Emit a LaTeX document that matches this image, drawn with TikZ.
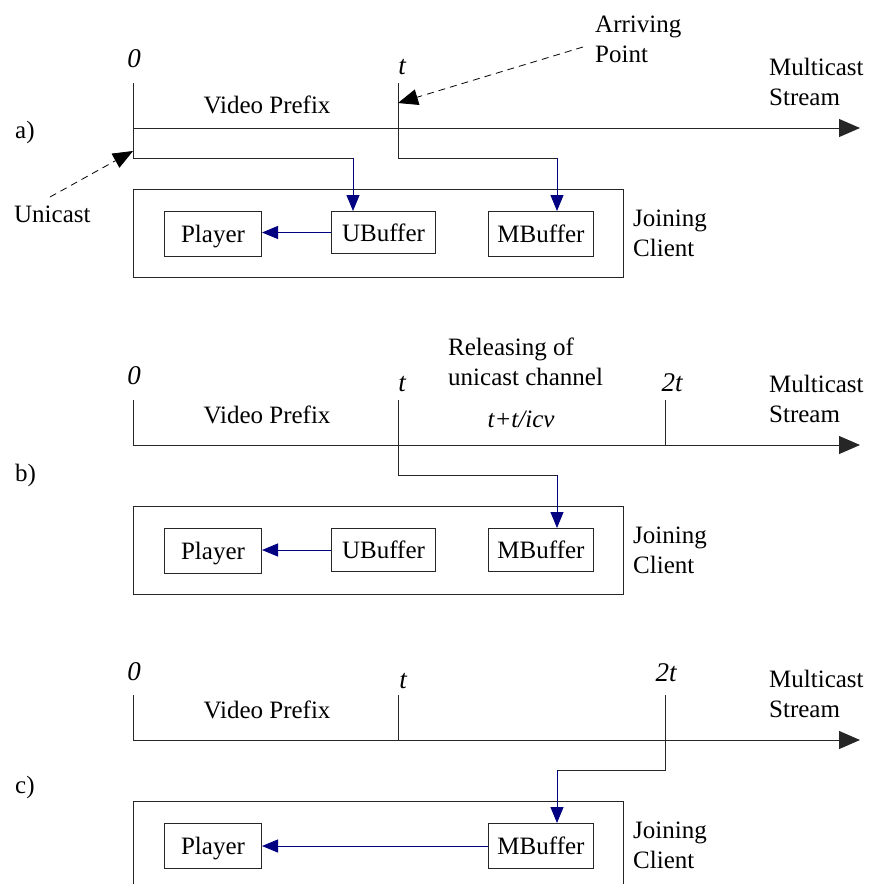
\documentclass[tikz,border=0pt]{standalone}
\usepackage{fontspec}
\setmainfont{Liberation Serif}
\usetikzlibrary{arrows.meta}
\definecolor{navy}{RGB}{0,0,128}
\begin{document}
\begin{tikzpicture}[x=1pt,y=-1pt,
  every node/.style={font=\fontsize{25}{30}\selectfont, inner sep=0pt},
  line/.style={draw=black!85, line width=1pt},
  axis/.style={line, -{Triangle[length=21pt,width=18pt]}},
  feed/.style={draw=navy, line width=1pt, -{Triangle[length=16pt,width=13pt]}},
  pointer/.style={draw=black, line width=0.8pt, dash pattern=on 7pt off 5pt, -{Triangle[length=20pt,width=16pt]}},
  client/.style={draw=black!85, line width=1pt, anchor=north west, minimum width=490pt, minimum height=88pt},
  unit/.style={draw=black!85, line width=1pt, anchor=north west, minimum height=45pt, text height=17pt, text depth=0pt},
  lbl/.style={anchor=base},
  lblw/.style={anchor=base west},
  multi/.style={anchor=north west, align=left},
  tick/.style={font=\fontsize{27}{30}\selectfont\itshape, anchor=base}
]
\useasboundingbox (0,0) rectangle (876,884);
\clip (0,0) rectangle (876,884);

% ---------------- panel a ----------------
\coordinate (a0) at (133,83);
\coordinate (a0x) at (133,128);
\coordinate (a0e) at (133,158);
\coordinate (a0u) at (133,151);
\coordinate (aE) at (860,128);
\coordinate (a1) at (398,83);
\coordinate (a1e) at (398,158);
\coordinate (a1p) at (398,103);
\coordinate (aUb) at (353,158);
\coordinate (aMb) at (557,158);
\coordinate (uniS) at (50,197);
\coordinate (arrS) at (583,47);

\draw[axis] (a0x) -- (aE);
\draw[line] (a0) -- (a0e) -- (aUb);
\draw[line] (a1) -- (a1e) -- (aMb);
\node[client] (clA) at (133,189) {};
\node[unit, minimum width=97pt] (plA) at (164,211) {Player};
\node[unit, minimum width=104pt, minimum height=42pt] (ubA) at (331,211) {UBuffer};
\node[unit, minimum width=105pt] (mbA) at (488,211) {MBuffer};
\draw[feed] (aUb) -- (aUb |- ubA.north);
\draw[feed] (aMb) -- (aMb |- mbA.north);
\draw[feed] (ubA.west) -- (ubA.west -| plA.east);

\node[tick] (a0l) at (134,67) {0};
\node[tick] (atl) at (402,74) {t};
\node[lbl] (avp) at (267,113) {Video Prefix};
\node[multi] (arr) at (595,16) {Arriving\\Point};
\node[multi] (msA) at (769,58) {Multicast\\Stream};
\node[lblw] (la) at (15,138) {a)};
\node[lblw] (uni) at (14,222) {Unicast};
\node[multi] (jcA) at (633,210) {Joining\\Client};
\draw[pointer] (uniS) -- (a0u);
\draw[pointer] (arrS) -- (a1p);

% ---------------- panel b ----------------
\coordinate (b0) at (133,400);
\coordinate (b0x) at (133,445);
\coordinate (bE) at (860,445);
\coordinate (b1) at (398,400);
\coordinate (b1e) at (398,475);
\coordinate (bMb) at (557,475);
\coordinate (b2) at (665,400);
\coordinate (b2x) at (665,445);

\draw[axis] (b0x) -- (bE);
\draw[line] (b0) -- (b0x);
\draw[line] (b2) -- (b2x);
\draw[line] (b1) -- (b1e) -- (bMb);
\node[client] (clB) at (133,506) {};
\node[unit, minimum width=97pt] (plB) at (164,528) {Player};
\node[unit, minimum width=104pt, minimum height=43pt] (ubB) at (331,528) {UBuffer};
\node[unit, minimum width=105pt, minimum height=43pt] (mbB) at (488,528) {MBuffer};
\draw[feed] (bMb) -- (bMb |- mbB.north);
\draw[feed] (ubB.west) -- (ubB.west -| plB.east);

\node[tick] (b0l) at (134,384) {0};
\node[tick] (btl) at (402,391) {t};
\node[tick] (b2l) at (672,391) {2t};
\node[lbl] (bvp) at (267,423) {Video Prefix};
\node[multi] (rel) at (448,338) {Releasing of\\unicast channel};
\node[lbl] (icv) at (521,427) {\textit{t+t/icv}};
\node[multi] (msB) at (769,375) {Multicast\\Stream};
\node[lblw] (lb) at (15,481) {b)};
\node[multi] (jcB) at (633,527) {Joining\\Client};

% ---------------- panel c ----------------
\coordinate (c0) at (133,695);
\coordinate (c0x) at (133,740);
\coordinate (cE) at (860,740);
\coordinate (c1) at (398,695);
\coordinate (c1x) at (398,740);
\coordinate (c2) at (665,695);
\coordinate (c2e) at (665,770);
\coordinate (cMb) at (557,770);

\draw[axis] (c0x) -- (cE);
\draw[line] (c0) -- (c0x);
\draw[line] (c1) -- (c1x);
\draw[line] (c2) -- (c2e) -- (cMb);
\node[client] (clC) at (133,801) {};
\node[unit, minimum width=97pt] (plC) at (164,823) {Player};
\node[unit, minimum width=105pt] (mbC) at (488,823) {MBuffer};
\draw[feed] (cMb) -- (cMb |- mbC.north);
\draw[feed] (mbC.west) -- (mbC.west -| plC.east);

\node[tick] (c0l) at (134,680) {0};
\node[tick] (ctl) at (403,688) {t};
\node[tick] (c2l) at (666,681) {2t};
\node[lbl] (cvp) at (267,718) {Video Prefix};
\node[multi] (msC) at (769,670) {Multicast\\Stream};
\node[lblw] (lc) at (15,793) {c)};
\node[multi] (jcC) at (633,822) {Joining\\Client};
\end{tikzpicture}
\end{document}
